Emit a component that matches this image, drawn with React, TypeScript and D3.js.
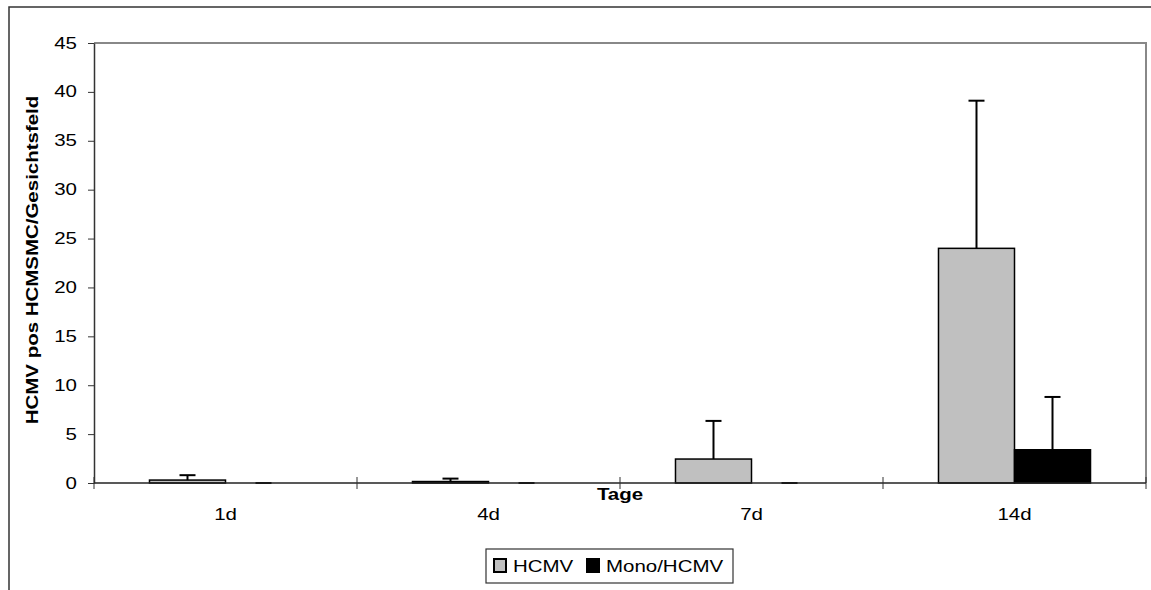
import { useEffect, useRef } from "react";
import * as d3 from "d3";

// values
const categories = ["1d", "4d", "7d", "14d"];
const seriesNames = ["HCMV", "Mono/HCMV"];
const hcmvValues = [0.3, 0.15, 2.45, 24];
const hcmvErrors = [0.5, 0.3, 3.9, 15.1];
const monoValues = [0, 0, 0, 3.4];
const monoErrors = [0, 0, 0, 5.4];
const yTicks = [0, 5, 10, 15, 20, 25, 30, 35, 40, 45];
const seriesColors = ["#c0c0c0", "#000000"];

const FONT = "'Liberation Sans', Arial, sans-serif";
const STRETCH = 1.28; // the original text is drawn wide

function App() {
  const ref = useRef<SVGSVGElement>(null);

  useEffect(() => {
    const svg = d3.select(ref.current);
    svg.selectAll("*").remove();

    const left = 94, right = 1146, top = 43, bottom = 483;

    // wide text helper
    const label = (parent: any, x: number, y: number, txt: string, anchor = "middle", bold = false, rotate = 0) =>
      parent.append("text")
        .attr("transform", `translate(${x},${y}) rotate(${rotate}) scale(${STRETCH},1)`)
        .attr("text-anchor", anchor)
        .attr("font-family", FONT).attr("font-size", 16)
        .attr("font-weight", bold ? "bold" : "normal")
        .attr("fill", "#000")
        .text(txt);

    // outer chart border (only top + left visible)
    svg.append("rect")
      .attr("x", 9).attr("y", 7)
      .attr("width", 1200).attr("height", 700)
      .attr("fill", "none").attr("stroke", "#333").attr("stroke-width", 1.5);

    const x0 = d3.scaleBand().domain(categories).range([left, right]).padding(0);
    const x1 = d3.scaleBand().domain(seriesNames).range([0, x0.bandwidth()])
      .paddingInner(0).paddingOuter(0.73);
    const y = d3.scaleLinear().domain([0, 45]).range([bottom, top]);

    // plot area frame, grey on top and right
    svg.append("path")
      .attr("d", `M${left},${y(45)}H${right}V${bottom}`)
      .attr("fill", "none").attr("stroke", "#888").attr("stroke-width", 2);

    const rows = [
      { name: seriesNames[0], values: hcmvValues, errors: hcmvErrors, color: seriesColors[0] },
      { name: seriesNames[1], values: monoValues, errors: monoErrors, color: seriesColors[1] },
    ];

    const g = svg.append("g");
    rows.forEach((s) => {
      categories.forEach((c, i) => {
        const bx = x0(c)! + x1(s.name)!;
        const v = s.values[i];
        if (v > 0) {
          g.append("rect")
            .attr("x", bx).attr("y", y(v))
            .attr("width", x1.bandwidth()).attr("height", y(0) - y(v))
            .attr("fill", s.color).attr("stroke", "#000").attr("stroke-width", 1.5);
        }
        const cx = bx + x1.bandwidth() / 2;
        const hi = v + s.errors[i];
        g.append("line")
          .attr("x1", cx).attr("x2", cx).attr("y1", y(v)).attr("y2", y(hi))
          .attr("stroke", "#000").attr("stroke-width", 2);
        g.append("line")
          .attr("x1", cx - 8).attr("x2", cx + 8).attr("y1", y(hi)).attr("y2", y(hi))
          .attr("stroke", "#000").attr("stroke-width", 2);
      });
    });

    // y axis
    const yAxis = svg.append("g")
      .attr("transform", `translate(${left},0)`)
      .call(d3.axisLeft(y).tickValues(yTicks).tickSize(6).tickSizeOuter(0));
    yAxis.select(".domain").attr("stroke", "#333").attr("stroke-width", 1.5);
    yAxis.selectAll(".tick line").attr("stroke", "#333");
    yAxis.selectAll(".tick text").remove();
    yTicks.forEach((t) => label(svg, left - 17, y(t) + 5.5, String(t), "end"));

    // x axis with ticks between categories
    const xg = svg.append("g").attr("transform", `translate(0,${bottom})`);
    xg.append("line").attr("x1", left).attr("x2", right)
      .attr("stroke", "#222").attr("stroke-width", 1.5);
    const bounds = categories.map((c) => x0(c)!).concat([right]);
    xg.selectAll(".xt").data(bounds).join("line")
      .attr("x1", (d) => d).attr("x2", (d) => d).attr("y1", -6).attr("y2", 6)
      .attr("stroke", "#333");
    categories.forEach((c) => label(xg, x0(c)! + x0.bandwidth() / 2, 37, c));

    // axis titles
    label(svg, 620, 500, "Tage", "middle", true);
    label(svg, 38, (top + bottom) / 2 - 3, "HCMV pos HCMSMC/Gesichtsfeld", "middle", true, -90);

    // legend
    const lg = svg.append("g");
    lg.append("rect").attr("x", 486).attr("y", 549).attr("width", 247).attr("height", 34)
      .attr("fill", "#fff").attr("stroke", "#333").attr("stroke-width", 1.2);
    const legendX = [494, 587];
    rows.forEach((s, i) => {
      lg.append("rect").attr("x", legendX[i]).attr("y", 559).attr("width", 12).attr("height", 13)
        .attr("fill", s.color).attr("stroke", "#000").attr("stroke-width", 2);
      label(lg, legendX[i] + 19, 572, s.name, "start");
    });
  }, []);

  return (
    <svg ref={ref} width={1151} height={590}
      style={{ position: "absolute", left: 0, top: 0, background: "#fff" }} />
  );
}

export default App;
